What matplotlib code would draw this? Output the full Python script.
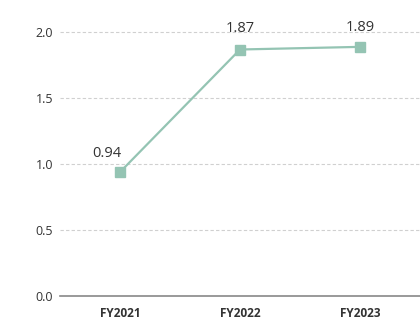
import matplotlib
matplotlib.use('Agg')
import matplotlib.pyplot as plt

years = ['FY2021', 'FY2022', 'FY2023']
values = [0.94, 1.87, 1.89]
labels = ['0.94', '1.87', '1.89']
yticks = [0.0, 0.5, 1.0, 1.5, 2.0]

plt.rcParams['font.family'] = ['Open Sans', 'DejaVu Sans']

fig = plt.figure(figsize=(4.2, 3.2), dpi=100)
ax = fig.add_axes([60 / 420, 24 / 320, 360 / 420, 290 / 320])

x = list(range(len(years)))
ax.plot(x, values, color='#94c4b3', linewidth=1.6, marker='s', markersize=7.5,
        markerfacecolor='#94c4b3', markeredgecolor='#94c4b3', zorder=3)

# value labels above the markers
offsets = [(-13, 11), (0, 14), (0, 12)]
for xi, v, lab, off in zip(x, values, labels, offsets):
    ax.annotate(lab, (xi, v), xytext=off, textcoords='offset pixels',
                ha='center', va='bottom', fontsize=10.5, color='#333333')

ax.set_xlim(-0.5, 2.5)
ax.set_ylim(0, 2.2)
ax.set_yticks(yticks)
ax.set_yticklabels([f'{t:.1f}' for t in yticks], fontsize=9, color='#333333')
ax.set_xticks(x)
ax.set_xticklabels(years, fontsize=8.5, fontweight='bold', color='#333333')

ax.yaxis.grid(True, linestyle=(0, (3, 2)), color='#d0d0d0', linewidth=0.8)
ax.set_axisbelow(True)
ax.tick_params(axis='both', length=0)
ax.tick_params(axis='y', pad=5)
ax.tick_params(axis='x', pad=8)

for s in ['top', 'right', 'left']:
    ax.spines[s].set_visible(False)
ax.spines['bottom'].set_color('#888888')
ax.spines['bottom'].set_linewidth(1.2)

fig.savefig('out.png', dpi=100)
